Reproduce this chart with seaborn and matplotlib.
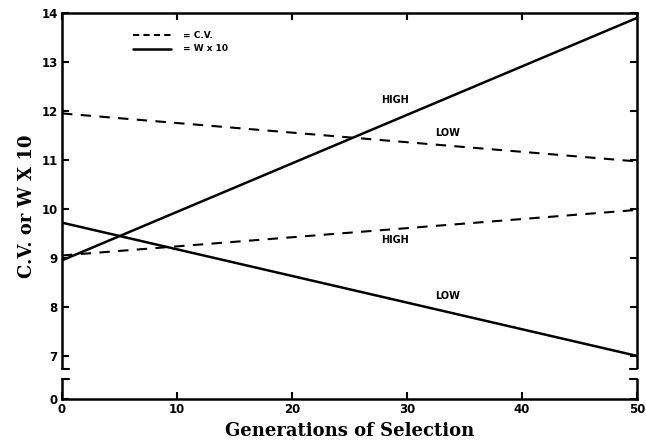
import matplotlib
matplotlib.use("Agg")
import matplotlib.pyplot as plt
import seaborn as sns
import pandas as pd

# data
generations = [0, 50]
cv_low = [11.95, 10.97]
cv_high = [9.05, 9.98]
w_high = [8.95, 13.9]
w_low = [9.72, 7.0]
ytick_vals = [6.12, 7, 8, 9, 10, 11, 12, 13, 14]
ytick_labels = ["0", "7", "8", "9", "10", "11", "12", "13", "14"]
xtick_vals = [0, 10, 20, 30, 40, 50]

sns.set_theme(style="ticks")
plt.rcParams['font.family'] = ['DejaVu Sans']
plt.rcParams.update({"text.color": "black", "axes.labelcolor": "black",
                     "xtick.color": "black", "ytick.color": "black"})

fig = plt.figure(figsize=(6.46, 4.41), dpi=100)
ax = fig.add_axes([62/646, 1-399/441, 575/646, 386/441])

df = pd.DataFrame({
    "gen": generations * 4,
    "val": cv_low + cv_high + w_high + w_low,
    "series": ["cv_low"]*2 + ["cv_high"]*2 + ["w_high"]*2 + ["w_low"]*2,
})
for s, ls in [("cv_low", (0, (5, 4))), ("cv_high", (0, (5, 4))), ("w_high", "-"), ("w_low", "-")]:
    sns.lineplot(data=df[df.series == s], x="gen", y="val", ax=ax, color="black",
                 linewidth=1.8 if ls == "-" else 1.5, linestyle=ls, legend=False)

ax.set_xlim(0, 50)
ax.set_ylim(6.12, 14)
ax.set_xticks(xtick_vals)
ax.set_xticklabels([str(v) for v in xtick_vals])
ax.set_yticks(ytick_vals)
ax.set_yticklabels(ytick_labels)
ax.tick_params(direction="in", length=5, width=1.5, labelsize=8.5, top=True, right=True,
               labeltop=False, labelright=False, pad=3, colors="black")
for lab in ax.get_xticklabels() + ax.get_yticklabels():
    lab.set_fontweight("bold")
for sp in ax.spines.values():
    sp.set_linewidth(1.8)
    sp.set_color("black")

ax.set_xlabel("Generations of Selection", family="DejaVu Serif", fontsize=13,
              fontweight="bold", color="black")
ax.set_ylabel("C.V. or W X 10", family="DejaVu Serif", fontsize=13,
              fontweight="bold", color="black")

# annotations
tkw = dict(fontsize=7, fontweight="bold", ha="center", va="center", color="black")
ax.text(29, 12.22, "HIGH", **tkw)
ax.text(33.5, 11.55, "LOW", **tkw)
ax.text(29, 9.37, "HIGH", **tkw)
ax.text(33.5, 8.22, "LOW", **tkw)

# legend
ax.plot([6.2, 9.5], [13.55, 13.55], color="black", lw=1.5, linestyle=(0, (3, 2)))
ax.plot([6.2, 9.5], [13.27, 13.27], color="black", lw=1.8)
ax.text(10.5, 13.55, "= C.V.", fontsize=6.5, fontweight="bold", va="center", color="black")
ax.text(10.5, 13.27, "= W x 10", fontsize=6.5, fontweight="bold", va="center", color="black")

# axis breaks
for xa, sgn in [(0, 1), (1, -1)]:
    ax.add_patch(plt.Rectangle((xa - 0.01, 6.52), 0.02, 0.22, transform=ax.get_yaxis_transform(),
                               facecolor="white", edgecolor="none", clip_on=False, zorder=5))
    for yy in [6.74, 6.52]:
        ax.plot([xa, xa + sgn*0.012], [yy, yy], transform=ax.get_yaxis_transform(),
                color="black", lw=1.5, clip_on=False, zorder=6)

fig.savefig("out.png", dpi=100)
